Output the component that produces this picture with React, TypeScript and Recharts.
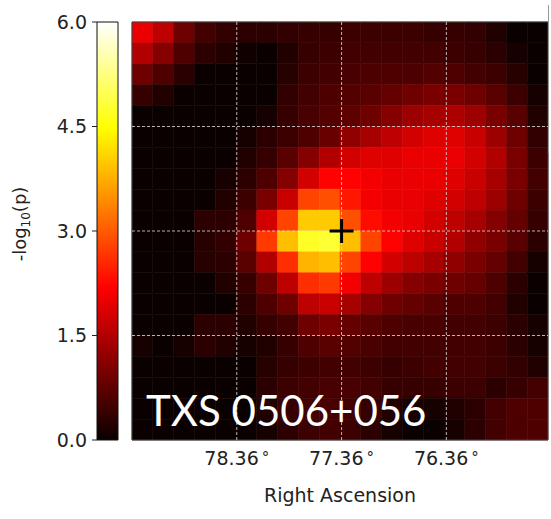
import { ScatterChart, Scatter, XAxis, YAxis, ReferenceArea, ReferenceLine } from 'recharts';

// -log10(p) map, 20 x 20 cells, rows top (high Dec) to bottom, columns east (left) to west (right)
const heat: number[][] = [
  [2.0, 1.6, 0.9, 0.5, 0.35, 0.3, 0.3, 0.35, 0.4, 0.4, 0.45, 0.45, 0.45, 0.45, 0.4, 0.4, 0.35, 0.2, 0, 0],
  [1.5, 1.1, 0.6, 0.3, 0.2, 0.05, 0, 0.2, 0.4, 0.45, 0.5, 0.5, 0.5, 0.5, 0.5, 0.45, 0.4, 0.3, 0.1, 0],
  [0.9, 0.6, 0.3, 0, 0, 0, 0, 0.25, 0.45, 0.5, 0.55, 0.6, 0.6, 0.6, 0.65, 0.6, 0.5, 0.45, 0.25, 0],
  [0.4, 0.2, 0, 0, 0, 0, 0, 0.35, 0.5, 0.6, 0.65, 0.7, 0.8, 0.9, 1.0, 1.0, 0.9, 0.7, 0.45, 0.1],
  [0, 0, 0, 0, 0, 0, 0.1, 0.4, 0.55, 0.65, 0.75, 0.9, 1.1, 1.3, 1.4, 1.45, 1.3, 1.0, 0.7, 0.2],
  [0, 0, 0, 0, 0, 0.1, 0.3, 0.45, 0.6, 0.85, 1.2, 1.4, 1.6, 1.8, 1.9, 1.9, 1.7, 1.3, 0.9, 0.35],
  [0, 0, 0, 0, 0, 0.2, 0.4, 0.7, 1.1, 1.5, 1.8, 1.9, 1.9, 2.0, 2.0, 2.0, 1.8, 1.5, 1.0, 0.45],
  [0, 0, 0, 0, 0.1, 0.3, 0.6, 1.1, 1.8, 2.2, 2.2, 2.1, 2.0, 2.0, 2.0, 1.9, 1.7, 1.4, 1.0, 0.5],
  [0, 0, 0, 0, 0.2, 0.45, 1.0, 1.7, 2.8, 2.9, 2.4, 2.1, 2.0, 2.0, 1.9, 1.8, 1.6, 1.3, 0.9, 0.45],
  [0, 0, 0, 0.3, 0.3, 0.6, 1.8, 2.8, 4.0, 4.0, 2.9, 2.3, 2.1, 2.0, 1.8, 1.6, 1.4, 1.1, 0.8, 0.4],
  [0, 0, 0, 0.25, 0.35, 0.9, 2.7, 3.9, 4.7, 4.8, 3.9, 2.8, 2.2, 1.9, 1.7, 1.5, 1.2, 1.0, 0.7, 0.3],
  [0, 0, 0, 0.25, 0.3, 0.7, 1.5, 2.6, 3.8, 3.9, 2.8, 2.2, 1.8, 1.6, 1.4, 1.2, 1.0, 0.8, 0.5, 0.1],
  [0, 0, 0, 0, 0.2, 0.4, 0.9, 1.6, 2.6, 2.7, 2.1, 1.6, 1.3, 1.1, 1.0, 0.9, 0.8, 0.6, 0.3, 0],
  [0, 0, 0, 0, 0, 0.3, 0.6, 0.9, 1.6, 1.7, 1.4, 1.1, 0.9, 0.8, 0.7, 0.6, 0.6, 0.5, 0.2, 0],
  [0, 0, 0, 0.3, 0.3, 0.2, 0.4, 0.5, 0.9, 1.0, 0.8, 0.7, 0.6, 0.55, 0.55, 0.5, 0.5, 0.45, 0.3, 0.1],
  [0.1, 0, 0.1, 0.3, 0.2, 0.1, 0.2, 0.4, 0.6, 0.7, 0.65, 0.55, 0.5, 0.5, 0.5, 0.5, 0.5, 0.45, 0.3, 0.1],
  [0, 0, 0, 0, 0, 0, 0.25, 0.4, 0.45, 0.5, 0.5, 0.45, 0.4, 0.45, 0.5, 0.5, 0.5, 0.45, 0.35, 0.2],
  [0, 0, 0, 0, 0, 0, 0.3, 0.45, 0.5, 0.55, 0.55, 0.5, 0.4, 0.4, 0.4, 0.45, 0.45, 0.3, 0.4, 0.5],
  [0, 0, 0, 0, 0, 0, 0.2, 0.4, 0.5, 0.55, 0.5, 0.4, 0.2, 0.1, 0.1, 0.2, 0.3, 0.5, 0.6, 0.6],
  [0, 0, 0, 0, 0, 0, 0.1, 0.3, 0.45, 0.5, 0.45, 0.3, 0.1, 0, 0, 0.1, 0.3, 0.5, 0.6, 0.6],
];

const raTicks = [78.36, 77.36, 76.36];
const decLines = [6.69, 5.69, 4.69];
const cbarTicks = [0, 1.5, 3, 4.5, 6];
const source = [{ ra: 77.36, dec: 5.69 }];

const RA_LEFT = 79.36;
const RA_RIGHT = 75.39;
const DEC_TOP = 7.69;
const DEC_BOTTOM = 3.69;
const VMAX = 6;

const font = '"DejaVu Sans", sans-serif';
const ink = '#222';

// matplotlib "hot"
function hot(v: number) {
  const t = Math.max(0, Math.min(1, v / VMAX));
  const r = t < 0.365 ? 0.0416 + (1 - 0.0416) * (t / 0.365) : 1;
  const g = t < 0.365 ? 0 : t < 0.746 ? (t - 0.365) / 0.381 : 1;
  const b = t < 0.746 ? 0 : (t - 0.746) / 0.254;
  const c = (x: number) => Math.round(x * 255);
  return `rgb(${c(r)},${c(g)},${c(b)})`;
}

const nRows = heat.length;
const nCols = heat[0].length;
const dx = (RA_LEFT - RA_RIGHT) / nCols;
const dy = (DEC_TOP - DEC_BOTTOM) / nRows;

const cells = heat.flatMap((row, r) =>
  row.map((v, c) => ({
    x1: RA_LEFT - c * dx,
    x2: RA_LEFT - (c + 1) * dx,
    y1: DEC_TOP - r * dy,
    y2: DEC_TOP - (r + 1) * dy,
    v,
  }))
);

const Cross = (props: any) => {
  const { cx, cy } = props;
  return (
    <g>
      <line x1={cx - 12} x2={cx + 12} y1={cy} y2={cy} stroke="#000" strokeWidth={3} />
      <line x1={cx} x2={cx} y1={cy - 12} y2={cy + 12} stroke="#000" strokeWidth={3} />
    </g>
  );
};

const RaTick = (props: any) => {
  const { x, y, payload } = props;
  return (
    <text x={x} y={y + 17} textAnchor="middle" fill={ink} fontSize={19} fontFamily={font}>
      {payload.value.toFixed(2)}
      <tspan dx={3} dy={-2} fontSize={15}>°</tspan>
    </text>
  );
};

export default function App() {
  return (
    <div style={{ position: 'absolute', left: 0, top: 0, width: 551, height: 519, background: '#fff' }}>
      <svg width={0} height={0} style={{ position: 'absolute' }}>
        <defs>
          <linearGradient id="hotGrad" x1="0" y1="1" x2="0" y2="0">
            <stop offset="0" stopColor="rgb(11,0,0)" />
            <stop offset="0.365" stopColor="rgb(255,0,0)" />
            <stop offset="0.746" stopColor="rgb(255,255,0)" />
            <stop offset="1" stopColor="rgb(255,255,255)" />
          </linearGradient>
        </defs>
      </svg>

      {/* colour bar */}
      <div style={{ position: 'absolute', left: 0, top: 0 }}>
        <ScatterChart width={130} height={519} margin={{ top: 22, right: 12, bottom: 79, left: 0 }}>
          <XAxis type="number" dataKey="x" domain={[0, 1]} hide />
          <YAxis
            type="number"
            dataKey="y"
            width={97}
            domain={[0, VMAX]}
            ticks={cbarTicks}
            tickFormatter={(v: number) => v.toFixed(1)}
            tick={{ fill: ink, fontSize: 19, fontFamily: font }}
            tickLine={{ stroke: ink }}
            tickSize={5}
            tickMargin={5}
            axisLine={false}
          />
          <ReferenceArea x1={0} x2={1} y1={0} y2={VMAX} fill="url(#hotGrad)" fillOpacity={1} stroke="#111" strokeWidth={1} />
          <Scatter data={cbarTicks.map((v) => ({ x: 0.5, y: v }))} shape={() => <g />} isAnimationActive={false} />
        </ScatterChart>
      </div>

      {/* map */}
      <div style={{ position: 'absolute', left: 0, top: 0 }}>
        <ScatterChart width={551} height={519} margin={{ top: 22, right: 3, bottom: 9, left: 132 }}>
          <XAxis
            type="number"
            dataKey="ra"
            domain={[RA_RIGHT, RA_LEFT]}
            reversed
            allowDataOverflow
            ticks={raTicks}
            tick={<RaTick />}
            tickLine={false}
            axisLine={false}
            tickSize={0}
            tickMargin={8}
            height={70}
            label={{ value: 'Right Ascension', position: 'insideBottom', offset: 8, fill: ink, fontSize: 19, fontFamily: font }}
          />
          <YAxis type="number" dataKey="dec" domain={[DEC_BOTTOM, DEC_TOP]} allowDataOverflow hide />
          {cells.map((c, i) => (
            <ReferenceArea
              key={i}
              x1={c.x1}
              x2={c.x2}
              y1={c.y1}
              y2={c.y2}
              fill={hot(c.v)}
              fillOpacity={1}
              stroke={hot(c.v)}
              strokeWidth={0.6}
            />
          ))}
          {raTicks.map((t) => (
            <ReferenceLine key={'x' + t} x={t} stroke="#ddd" strokeOpacity={0.8} strokeDasharray="3 2" />
          ))}
          {decLines.map((t) => (
            <ReferenceLine key={'y' + t} y={t} stroke="#ddd" strokeOpacity={0.8} strokeDasharray="3 2" />
          ))}
          <ReferenceArea x1={RA_LEFT} x2={RA_RIGHT} y1={DEC_BOTTOM} y2={DEC_TOP} fill="none" stroke="#444" strokeWidth={1} />
          <Scatter data={source} dataKey="dec" shape={<Cross />} isAnimationActive={false} />
        </ScatterChart>
      </div>

      <svg width={551} height={519} style={{ position: 'absolute', left: 0, top: 0, pointerEvents: 'none' }}>
        <text x={146} y={426} fill="#fff" fontSize={42} fontFamily="Lato, sans-serif">
          TXS 0506+056
        </text>
        <text transform="translate(26,224) rotate(-90)" textAnchor="middle" fill={ink} fontSize={18} fontFamily={font}>
          -log
          <tspan fontSize={12} dy={4}>10</tspan>
          <tspan dy={-4}>(p)</tspan>
        </text>
      </svg>
      <div style={{ position: 'absolute', left: 547.5, top: 5, width: 1.5, height: 148, background: '#999' }} />
    </div>
  );
}
